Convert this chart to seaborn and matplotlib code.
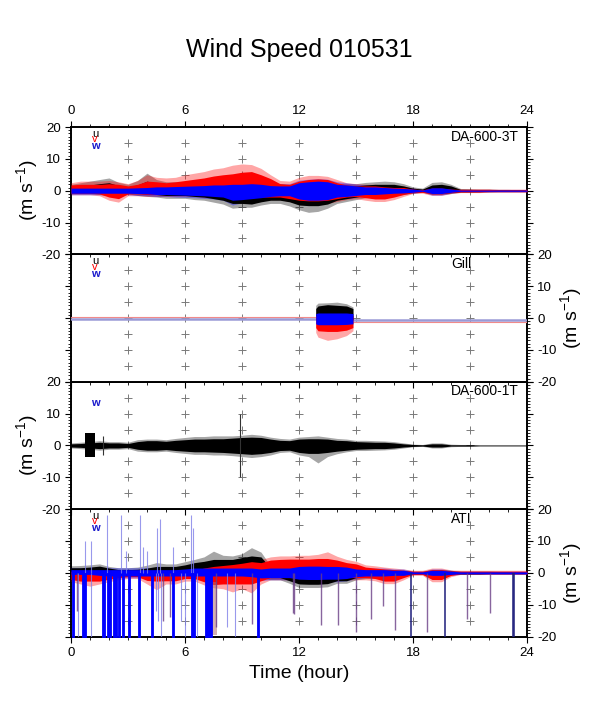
import numpy as np
import matplotlib
matplotlib.use("Agg")
import matplotlib.pyplot as plt
import matplotlib.transforms as mtransforms
from matplotlib.ticker import MultipleLocator
import seaborn as sns

sns.set_theme(style="white")
plt.rcParams['font.family'] = ['Liberation Sans', 'DejaVu Sans']
plt.rcParams['mathtext.fontset'] = 'custom'
plt.rcParams['mathtext.rm'] = 'Liberation Sans'
plt.rcParams['mathtext.it'] = 'Liberation Sans:italic'
plt.rcParams['axes.unicode_minus'] = False
for k in ('text.color', 'axes.labelcolor', 'xtick.color', 'ytick.color', 'axes.edgecolor'):
    plt.rcParams[k] = 'black'

# ---------------- data ----------------
# half-hour sampling grid 0..24 h (49 samples)
hours = np.arange(0, 24.5, 0.5)

panel_names = ["DA-600-3T", "Gill", "DA-600-1T", "ATI"]

# Panel 1 : DA-600-3T  (dense band hi/lo and peak envelope)
u1_hi = [1.2,1.5,1.8,2.2,2.5,1.6,1.2,1.8,3.0,2.2, 1.8,1.8,1.8,2.0,2.0,2.0,2.0,2.0,2.0,2.0, 1.8,1.5,1.5,1.2,1.2,1.2,1.2,1.2,1.5,1.5, 1.5,1.8,2.0,2.0,2.0,1.5,0.8,0.5,1.8,2.0, 1.5,0.4,0.4,0.3,0.3,0.2,0.2,0.2,0.2]
u1_lo = [-0.5,-0.5,-0.5,-0.6,-0.8,-0.6,-0.5,-0.8,-1.0,-1.2, -1.5,-1.5,-1.5,-1.8,-2.0,-2.5,-3.0,-4.0,-4.0,-4.2, -3.5,-3.0,-3.0,-3.5,-4.5,-4.7,-4.7,-4.2,-3.0,-2.5, -2.0,-1.5,-1.2,-1.0,-1.0,-0.8,-0.5,-0.3,-0.8,-0.8, -0.6,-0.3,-0.3,-0.3,-0.2,-0.2,-0.2,-0.2,-0.2]
u1_pk_hi = [2.0,2.5,3.0,3.5,4.0,2.6,2.0,3.2,5.5,3.5, 2.8,2.8,2.8,3.0,3.0,3.0,3.0,3.0,3.0,3.0, 2.6,2.2,2.2,1.8,1.8,1.8,1.8,1.8,2.2,2.2, 2.2,2.6,2.8,3.0,2.8,2.2,1.2,0.8,2.6,2.8, 2.0,0.7,0.6,0.5,0.5,0.4,0.4,0.3,0.3]
u1_pk_lo = [-1.0,-1.0,-1.0,-1.2,-1.5,-1.2,-1.0,-1.5,-1.8,-2.0, -2.4,-2.4,-2.4,-2.8,-3.0,-3.6,-4.2,-5.5,-5.2,-5.2, -4.5,-4.0,-4.0,-4.8,-6.0,-6.8,-6.5,-5.5,-4.0,-3.4, -2.8,-2.2,-1.8,-1.5,-1.5,-1.2,-0.8,-0.5,-1.2,-1.2, -0.9,-0.5,-0.5,-0.4,-0.4,-0.3,-0.3,-0.3,-0.3]

v1_hi = [1.8,2.0,2.0,2.0,2.2,2.0,1.5,2.0,3.0,2.8, 2.5,2.8,3.2,3.6,4.0,4.6,5.0,5.3,5.8,6.0, 5.0,3.8,2.2,2.0,3.0,3.5,3.7,3.5,2.5,1.8, 1.5,1.5,1.5,1.2,1.0,1.0,0.5,0.3,0.8,0.8, 0.5,0.4,0.4,0.4,0.4,0.3,0.3,0.3,0.3]
v1_lo = [-0.8,-0.8,-0.8,-1.0,-2.0,-2.5,-1.0,-1.0,-1.2,-1.2, -1.2,-1.2,-1.2,-1.2,-1.5,-1.5,-1.8,-2.0,-2.0,-2.0, -2.0,-2.0,-2.0,-2.5,-3.0,-3.2,-3.2,-3.0,-2.5,-2.0, -1.8,-2.2,-2.6,-2.6,-2.0,-1.2,-0.6,-0.5,-1.0,-1.0, -0.6,-0.4,-0.4,-0.4,-0.3,-0.3,-0.3,-0.3,-0.3]
v1_pk_hi = [2.5,3.0,3.0,3.0,3.2,2.8,2.2,3.2,5.0,4.2, 4.0,4.2,5.0,5.5,6.0,6.8,7.2,8.0,8.4,8.2, 7.0,5.0,3.2,3.0,4.2,4.8,4.8,4.5,3.5,2.5, 2.2,2.0,2.0,1.8,1.5,1.5,0.8,0.5,1.2,1.2, 0.8,0.6,0.6,0.6,0.6,0.5,0.5,0.5,0.5]
v1_pk_lo = [-1.3,-1.3,-1.3,-1.6,-3.0,-3.6,-1.6,-1.6,-1.8,-1.8, -1.8,-1.8,-1.8,-1.8,-2.2,-2.2,-2.5,-2.8,-2.8,-2.8, -2.8,-2.8,-2.8,-3.4,-4.0,-4.2,-4.2,-4.0,-3.4,-2.8, -2.5,-3.0,-3.4,-3.4,-2.8,-1.8,-0.9,-0.8,-1.5,-1.5, -0.9,-0.6,-0.6,-0.6,-0.5,-0.5,-0.5,-0.5,-0.5]

w1_hi = [0.8,0.8,0.8,0.8,0.8,0.8,0.8,0.9,1.0,1.2, 1.2,1.3,1.4,1.5,1.6,1.8,1.8,2.0,2.0,2.2, 2.0,1.6,1.5,1.5,2.5,2.8,3.0,2.8,2.0,1.8, 1.5,1.2,1.2,1.0,0.8,0.7,0.5,0.2,0.9,0.9, 0.5,0.2,0.2,0.2,0.2,0.2,0.2,0.2,0.2]
w1_lo = [-0.8,-0.8,-0.8,-0.8,-0.8,-0.8,-0.8,-0.9,-1.0,-1.2, -1.2,-1.3,-1.4,-1.5,-1.6,-1.8,-2.0,-3.0,-2.8,-2.5, -2.2,-1.8,-1.6,-1.6,-2.6,-3.0,-3.0,-2.8,-2.0,-1.8, -1.5,-1.2,-1.2,-1.0,-0.8,-0.7,-0.5,-0.2,-0.9,-0.9, -0.5,-0.2,-0.2,-0.2,-0.2,-0.2,-0.2,-0.2,-0.2]
w1_pk_hi = [1.3,1.3,1.3,1.3,1.3,1.3,1.3,1.5,1.6,1.8, 1.8,2.0,2.1,2.2,2.4,2.6,2.6,2.8,3.0,3.5, 2.8,2.3,2.2,2.2,3.3,3.6,3.8,3.6,2.8,2.5, 2.1,1.8,1.8,1.5,1.2,1.0,0.8,0.4,1.4,1.4, 0.8,0.4,0.4,0.4,0.4,0.4,0.4,0.4,0.4]
w1_pk_lo = [-1.3,-1.3,-1.3,-1.3,-1.3,-1.3,-1.3,-1.5,-1.6,-1.8, -1.8,-2.0,-2.1,-2.2,-2.4,-2.6,-3.0,-4.5,-3.8,-3.4, -3.0,-2.5,-2.3,-2.3,-3.4,-3.8,-3.8,-3.6,-2.8,-2.5, -2.1,-1.8,-1.8,-1.5,-1.2,-1.0,-0.8,-0.4,-1.4,-1.4, -0.8,-0.4,-0.4,-0.4,-0.4,-0.4,-0.4,-0.4,-0.4]

# Panel 2 : Gill  (quiet lines + burst)
gill_t1 = [0.0, 12.88]
gill_t2 = [14.84, 24.0]
gill_v1 = [0.4, 0.4]
gill_v2 = [-1.2, -1.2]
gill_w1 = [-0.3, -0.3]
gill_w2 = [-0.5, -0.5]
gill_burst_t = [12.88, 13.0, 13.5, 14.0, 14.5, 14.84]
gill_u_hi = [3.0, 3.8, 4.2, 4.0, 3.8, 3.0]
gill_u_pk = [4.0, 4.7, 4.8, 5.0, 4.5, 3.5]
gill_u_lo = [-0.5, -0.6, -0.6, -0.6, -0.6, -0.5]
gill_v_hi = [0.8, 1.0, 1.0, 1.0, 1.0, 0.8]
gill_v_lo = [-3.0, -4.0, -4.2, -4.2, -3.8, -3.0]
gill_v_pk = [-4.5, -6.0, -7.0, -6.5, -5.5, -4.0]
gill_w_hi = [1.4, 1.6, 1.6, 1.6, 1.6, 1.4]
gill_w_lo = [-1.8, -2.1, -2.1, -2.1, -2.0, -1.8]

# Panel 3 : DA-600-1T (single trace)
b3_hi = [0.5,0.6,0.8,1.0,0.8,0.8,0.6,1.2,1.5,1.5, 1.3,1.6,1.8,2.0,2.0,2.1,2.1,2.3,2.5,2.6, 2.5,2.0,1.6,1.5,2.0,2.1,2.1,2.0,1.6,1.5, 1.2,1.1,1.0,1.0,0.8,0.5,0.3,0.2,0.5,0.5, 0.2,0.2,0.2,0.1,0.1,0.1,0.1,0.1,0.1]
b3_lo = [-0.5,-0.6,-0.8,-1.0,-0.8,-0.8,-0.6,-1.2,-1.5,-1.5, -1.3,-1.6,-1.8,-2.0,-2.0,-2.1,-2.2,-2.4,-2.6,-2.8, -2.6,-2.2,-1.6,-1.5,-2.2,-2.5,-2.5,-2.2,-1.8,-1.5, -1.2,-1.1,-1.0,-1.0,-0.8,-0.5,-0.3,-0.2,-0.5,-0.5, -0.2,-0.2,-0.2,-0.1,-0.1,-0.1,-0.1,-0.1,-0.1]
b3_pk_hi = [0.8,1.0,1.2,1.5,1.2,1.2,1.0,1.8,2.0,2.0, 1.8,2.2,2.5,2.8,2.8,3.0,3.0,3.0,3.2,3.5, 3.2,2.6,2.2,2.0,2.6,2.8,3.0,2.6,2.2,2.0, 1.6,1.6,1.5,1.4,1.2,0.8,0.4,0.3,0.8,0.8, 0.4,0.3,0.3,0.2,0.2,0.2,0.2,0.2,0.2]
b3_pk_lo = [-0.8,-1.0,-1.2,-1.5,-1.2,-1.2,-1.0,-1.8,-2.0,-2.0, -1.8,-2.2,-2.5,-2.8,-2.8,-3.0,-3.0,-3.2,-3.5,-3.8, -3.5,-3.0,-2.2,-2.0,-3.0,-3.5,-5.5,-3.5,-2.6,-2.0, -1.6,-1.6,-1.5,-1.4,-1.2,-0.8,-0.4,-0.3,-0.8,-0.8, -0.4,-0.3,-0.3,-0.2,-0.2,-0.2,-0.2,-0.2,-0.2]
b3_block_t = [0.74, 1.26]
b3_block_hi = [3.9, 3.9]
b3_block_lo = [-3.7, -3.7]
b3_spike_t = [1.67, 8.9]
b3_spike_hi = [3.0, 10.0]
b3_spike_lo = [-3.0, -10.0]

# Panel 4 : ATI
u4_hi = [1.6,1.6,1.8,2.1,1.5,1.0,1.0,1.1,1.5,2.0, 2.0,2.0,2.5,3.2,3.6,4.2,4.2,4.2,4.8,5.3, 5.0,1.5,1.5,1.8,1.0,1.0,1.0,1.0,1.0,0.8, 0.8,0.8,0.8,0.6,0.6,0.5,0.3,0.3,0.6,0.6, 0.5,0.3,0.3,0.3,0.3,0.2,0.2,0.2,0.2]
u4_lo = [-0.5,-0.5,-0.5,-0.5,-0.5,-0.5,-0.5,-0.5,-0.5,-0.5, -0.5,-0.5,-0.5,-0.5,-0.5,-0.5,-0.8,-1.0,-1.0,-1.0, -1.0,-1.5,-1.5,-2.5,-3.5,-3.6,-3.6,-3.4,-2.5,-2.5, -1.5,-1.2,-1.0,-1.0,-0.8,-0.6,-0.3,-0.3,-0.6,-0.6, -0.4,-0.3,-0.3,-0.3,-0.2,-0.2,-0.2,-0.2,-0.2]
u4_pk_hi = [2.2,2.3,2.5,2.8,2.0,1.6,1.6,1.8,2.4,3.2, 2.8,2.8,3.5,4.2,5.0,6.8,5.5,5.3,6.0,7.9, 6.5,2.2,2.2,2.5,1.5,1.5,1.5,1.5,1.5,1.2, 1.2,1.2,1.2,1.0,1.0,0.8,0.5,0.5,1.0,1.0, 0.8,0.5,0.5,0.5,0.5,0.4,0.4,0.4,0.4]
u4_pk_lo = [-0.8,-0.8,-0.8,-0.8,-0.8,-0.8,-0.8,-0.8,-0.8,-0.8, -0.8,-0.8,-0.8,-0.8,-0.8,-0.8,-1.2,-1.5,-1.5,-1.5, -1.5,-2.2,-2.2,-3.3,-4.6,-4.6,-4.6,-4.4,-3.3,-3.3, -2.2,-1.8,-1.5,-1.5,-1.2,-1.0,-0.5,-0.5,-1.0,-1.0, -0.6,-0.5,-0.5,-0.5,-0.4,-0.4,-0.4,-0.4,-0.4]

v4_hi = [0.5,0.5,0.5,0.5,0.5,0.5,0.5,0.5,0.5,0.5, 0.5,0.5,0.6,0.8,1.5,2.0,2.3,2.6,3.0,3.5, 3.2,4.0,4.2,4.3,4.3,4.3,4.5,4.5,4.0,3.2, 2.8,1.8,1.5,1.2,1.0,0.8,0.5,0.5,1.0,1.0, 0.6,0.5,0.5,0.5,0.5,0.5,0.5,0.5,0.5]
v4_lo = [-2.1,-2.6,-2.6,-2.6,-2.0,-1.5,-1.2,-1.2,-2.4,-2.6, -2.5,-2.5,-1.8,-1.8,-2.8,-3.7,-3.5,-3.5,-3.5,-3.5, -2.5,-1.5,-1.5,-1.5,-1.5,-1.5,-1.5,-1.5,-1.5,-1.5, -1.5,-1.5,-1.8,-2.6,-2.6,-1.5,-0.5,-0.5,-2.1,-2.1, -0.8,-0.3,-0.3,-0.3,-0.3,-0.3,-0.3,-0.3,-0.3]
v4_pk_hi = [0.8,0.8,0.8,0.8,0.8,0.8,0.8,0.8,0.8,0.8, 0.8,0.8,1.0,1.2,2.2,2.8,3.2,3.6,4.0,4.5, 4.2,5.0,5.3,5.3,5.5,5.5,5.8,6.6,5.2,4.2, 3.6,2.5,2.2,1.8,1.5,1.2,0.8,0.8,1.5,1.5, 0.9,0.8,0.8,0.8,0.8,0.8,0.8,0.8,0.8]
v4_pk_lo = [-2.8,-3.5,-4.2,-3.5,-2.8,-2.2,-1.8,-1.8,-3.5,-5.3, -3.5,-3.5,-2.6,-2.6,-3.8,-4.7,-5.0,-6.0,-5.0,-6.3, -3.5,-2.2,-2.2,-2.2,-2.2,-2.2,-2.2,-2.2,-2.2,-2.2, -2.2,-2.2,-2.5,-3.4,-3.4,-2.2,-0.8,-0.8,-2.8,-2.8, -1.2,-0.5,-0.5,-0.5,-0.5,-0.5,-0.5,-0.5,-0.5]

w4_hi = [1.0,1.0,1.0,1.0,1.0,1.0,1.0,1.0,1.0,1.0, 1.0,1.0,1.2,1.5,1.5,1.5,1.5,1.5,1.5,1.5, 1.2,1.5,1.5,1.5,2.0,2.1,2.1,2.0,2.0,1.8, 1.2,1.0,1.0,1.0,0.8,0.8,0.3,0.3,0.8,0.8, 0.5,0.3,0.3,0.3,0.3,0.3,0.3,0.3,0.3]
w4_lo = [-0.5,-0.5,-0.5,-0.8,-1.0,-1.0,-1.0,-1.0,-1.0,-1.0, -1.0,-1.0,-1.0,-1.0,-1.0,-1.0,-1.0,-1.0,-1.0,-1.2, -1.6,-1.5,-1.5,-1.5,-2.0,-2.1,-2.1,-2.0,-2.0,-1.8, -1.2,-1.0,-1.0,-1.0,-0.8,-0.8,-0.3,-0.3,-0.8,-0.8, -0.5,-0.3,-0.3,-0.3,-0.3,-0.3,-0.3,-0.3,-0.3]
w4_pk_hi = [1.6,1.6,1.6,1.6,1.6,1.6,1.6,1.6,1.6,1.6, 1.6,1.6,1.8,2.2,2.2,2.2,2.2,2.2,2.2,2.2, 1.8,2.2,2.2,2.2,2.8,3.0,3.0,2.8,2.8,2.5, 1.8,1.5,1.5,1.5,1.2,1.2,0.5,0.5,1.2,1.2, 0.8,0.5,0.5,0.5,0.5,0.5,0.5,0.5,0.5]
w4_pk_lo = [-1.0,-1.0,-1.0,-1.3,-1.6,-1.6,-1.6,-1.6,-1.6,-1.6, -1.6,-1.6,-1.6,-1.6,-1.6,-1.6,-1.6,-1.6,-1.6,-1.8, -2.4,-2.2,-2.2,-2.2,-2.8,-3.0,-3.0,-2.8,-2.8,-2.5, -1.8,-1.5,-1.5,-1.5,-1.2,-1.2,-0.5,-0.5,-1.2,-1.2, -0.8,-0.5,-0.5,-0.5,-0.5,-0.5,-0.5,-0.5,-0.5]

# ATI spikes
w4_bar_start = [0.05, 0.60, 1.65, 1.90, 2.20, 2.45, 2.70, 3.00, 3.55, 4.23, 5.30, 6.30, 7.05, 9.80]
w4_bar_end   = [0.15, 0.80, 1.80, 2.10, 2.40, 2.60, 2.80, 3.10, 3.65, 4.30, 5.40, 6.55, 7.40, 9.92]
w4_up_t = [0.74, 1.05, 1.88, 2.62, 2.90, 3.63, 3.80, 4.00, 4.50, 4.68, 5.35, 6.30, 6.42]
w4_up_y = [10, 10, 18, 18, 7, 18, 8, 7, 14, 17, 8, 18, 14]
w4_dn_t = [0.35, 1.05, 4.45, 4.60, 4.75, 5.80, 6.00, 6.65, 8.20, 8.63]
w4_dn_y = [-20, -20, -12, -15, -20, -15, -20, -20, -17, -20]
p4_t = [0.30, 4.85, 5.20, 7.65, 9.55, 11.67, 11.75, 13.14, 14.07, 14.98, 15.79, 16.44, 17.07, 18.72, 20.83, 22.05]
p4_y = [-12, -15, -14, -17, -16, -12.6, -13, -16.5, -16.5, -18.5, -14.5, -10.5, -18, -18.5, -14.5, -12.5]
n4_t = [17.88, 19.68, 23.28, 23.33]
n4_y = [-20, -20, -20, -20]
v4_band_t = [7.42, 7.68]
v4_band_lo = [-19.5, -19.5]

# ---------------- figure ----------------
fig = plt.figure(figsize=(5.98, 7.09), dpi=100)
W, H = 598.0, 709.0
left_px, right_px = 71.0, 527.0
top_px, bot_px = 127.0, 636.5
ph = (bot_px - top_px) / 4.0

RED, BLUE, BLACK = "#ff0000", "#0000ff", "#000000"
PURPLE = "#6b3f86"
NAVY = "#1c1c7a"

axes = []
for i in range(4):
    b = 1 - (top_px + (i + 1) * ph) / H
    ax = fig.add_axes([left_px / W, b, (right_px - left_px) / W, ph / H])
    axes.append(ax)

gx, gy = np.meshgrid(np.arange(3, 22, 3), np.arange(-15, 16, 5))


def band(ax, hi, lo, color, alpha=1.0, t=hours, z=3):
    ax.fill_between(t, lo, hi, color=color, alpha=alpha, lw=0, zorder=z)


for i, ax in enumerate(axes):
    ax.set_xlim(0, 24)
    ax.set_ylim(-20, 20)
    ax.scatter(gx.ravel(), gy.ravel(), marker='+', s=38, c='#7a7a7a',
               linewidths=0.7, zorder=1)
    ax.xaxis.set_major_locator(MultipleLocator(6))
    ax.xaxis.set_minor_locator(MultipleLocator(1))
    ax.yaxis.set_major_locator(MultipleLocator(10))
    ax.yaxis.set_minor_locator(MultipleLocator(1))
    ax.tick_params(which='both', direction='out', top=True, bottom=True,
                   left=True, right=True, colors='black', width=0.8,
                   labelsize=9.5, labelcolor='black')
    ax.tick_params(which='major', length=4.0, pad=3.5)
    ax.tick_params(which='minor', length=2.0, width=0.6)
    ax.tick_params(axis='x', labeltop=(i == 0), labelbottom=(i == 3))
    left_lab = i in (0, 2)
    ax.tick_params(axis='y', labelleft=left_lab, labelright=not left_lab)
    for sp in ax.spines.values():
        sp.set_linewidth(1.4)
        sp.set_color('black')
    ax.set_facecolor('white')
    ax.set_zorder(10 - i)
    trans = mtransforms.blended_transform_factory(ax.transData, ax.transAxes)
    ax.text(20, 0.924, panel_names[i], transform=trans, ha='left', va='center',
            fontsize=10, color='black', zorder=20)
    if i != 2:
        ax.text(1.26, 0.948, "u", transform=trans, ha='center', va='center',
                fontsize=8, color=BLACK, zorder=20)
        ax.text(1.26, 0.903, "v", transform=trans, ha='center', va='center',
                fontsize=8, color=RED, zorder=20)
        ax.text(1.26, 0.848, "w", transform=trans, ha='center', va='center',
                fontsize=8, color='#1a1acc', fontweight='bold', zorder=20)
    else:
        ax.text(1.26, 0.835, "w", transform=trans, ha='center', va='center',
                fontsize=8, color='#1a1acc', fontweight='bold', zorder=20)

# Panel 1
ax = axes[0]
band(ax, u1_pk_hi, u1_pk_lo, BLACK, 0.35)
band(ax, v1_pk_hi, v1_pk_lo, RED, 0.35)
band(ax, w1_pk_hi, w1_pk_lo, BLUE, 0.35)
band(ax, u1_hi, u1_lo, BLACK, 1.0, z=4)
band(ax, v1_hi, v1_lo, RED, 1.0, z=5)
band(ax, w1_hi, w1_lo, BLUE, 1.0, z=6)

# Panel 2
ax = axes[1]
for tt, vv, ww in ((gill_t1, gill_v1, gill_w1), (gill_t2, gill_v2, gill_w2)):
    sns.lineplot(x=tt, y=ww, ax=ax, color='#9a9ad6', lw=1.8, zorder=3)
    sns.lineplot(x=tt, y=vv, ax=ax, color='#f08a8a', lw=0.8, zorder=3)
band(ax, gill_u_pk, gill_u_lo, BLACK, 0.35, t=gill_burst_t)
band(ax, gill_v_hi, gill_v_pk, RED, 0.35, t=gill_burst_t)
band(ax, gill_u_hi, gill_u_lo, BLACK, 1.0, t=gill_burst_t, z=4)
band(ax, gill_v_hi, gill_v_lo, RED, 1.0, t=gill_burst_t, z=5)
band(ax, gill_w_hi, gill_w_lo, BLUE, 1.0, t=gill_burst_t, z=6)

# Panel 3
ax = axes[2]
band(ax, b3_pk_hi, b3_pk_lo, BLACK, 0.35)
band(ax, b3_hi, b3_lo, BLACK, 1.0, z=4)
band(ax, b3_block_hi, b3_block_lo, BLACK, 1.0, t=b3_block_t, z=4)
ax.vlines(b3_spike_t, b3_spike_lo, b3_spike_hi, color='#333333', lw=0.8, zorder=4)

# Panel 4
ax = axes[3]
band(ax, u4_pk_hi, u4_pk_lo, BLACK, 0.35)
band(ax, v4_pk_hi, v4_pk_lo, RED, 0.35)
band(ax, w4_pk_hi, w4_pk_lo, BLUE, 0.35)
band(ax, u4_hi, u4_lo, BLACK, 1.0, z=4)
band(ax, v4_hi, v4_lo, RED, 1.0, z=5)
band(ax, w4_hi, w4_lo, BLUE, 1.0, z=6)
ax.fill_between(v4_band_t, v4_band_lo, [-3, -3], color='#b07070', alpha=0.55, lw=0, zorder=6)
ax.vlines(w4_up_t, 0, w4_up_y, color='#8080e8', lw=0.8, alpha=0.8, zorder=6)
ax.vlines(w4_dn_t, 0, w4_dn_y, color='#8080e8', lw=0.8, alpha=0.8, zorder=6)
for s, e in zip(w4_bar_start, w4_bar_end):
    ax.fill_between([s, e], [-20, -20], [0, 0], color=BLUE, lw=0.6, edgecolor=BLUE, zorder=7)
ax.vlines(p4_t, 0, p4_y, color=PURPLE, lw=1.0, alpha=0.8, zorder=7)
ax.vlines(n4_t, 0, n4_y, color=NAVY, lw=1.1, zorder=7)

for ax in axes:
    ax.set_xlabel("")
    ax.set_ylabel("")
    if ax.get_legend():
        ax.get_legend().remove()

# titles / labels
fig.text(0.5, 1 - 50 / H, "Wind Speed 010531", ha='center', va='center', fontsize=18, color='black')
fig.text(299 / W, 1 - 674 / H, "Time (hour)", ha='center', va='center', fontsize=14, color='black')
for i in range(4):
    yc = 1 - (top_px + (i + 0.5) * ph) / H
    xc = 27 / W if i in (0, 2) else 571 / W
    fig.text(xc, yc, "(m s$^{-1}$)", ha='center', va='center', rotation=90, fontsize=14, color='black')

fig.savefig("out.png", dpi=100, facecolor='white')
